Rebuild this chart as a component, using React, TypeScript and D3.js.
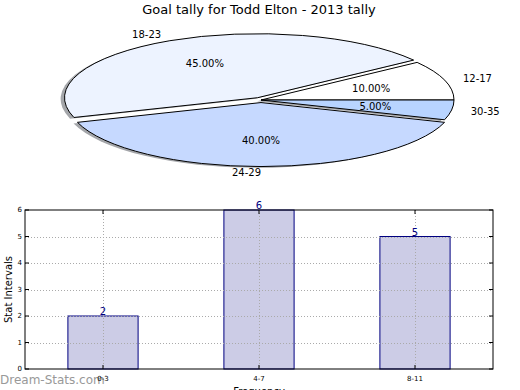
import React from 'react';
import * as d3 from 'd3';

// pie data
const ageGroups = ['12-17', '18-23', '24-29', '30-35'];
const ageShares = [10, 45, 40, 5];
const sliceColors = ['#ffffff', '#edf3ff', '#c6d9ff', '#b8d4ff'];
const explodeBy = [0, 0.04, 0.04, 0];

// bar data
const freqBins = ['0-3', '4-7', '8-11'];
const statCounts = [2, 6, 5];
const yTicks = [0, 1, 2, 3, 4, 5, 6];

const W = 520;
const H = 390;
const FONT = '"DejaVu Sans", sans-serif';

const pieBox = { cx: 261, cy: 100, rx: 193, ry: 64 };
const bar = { left: 25, right: 493, top: 210, bottom: 369 };

const App: React.FC = () => {
  const { cx, cy, rx, ry } = pieBox;
  const k = ry / rx;

  // counterclockwise from 3 o'clock, like matplotlib
  const pie = d3.pie<number>().sort(null).value((d) => d)
    .startAngle(Math.PI / 2).endAngle(Math.PI / 2 - 2 * Math.PI);
  const arcs = pie(ageShares);
  const arc = d3.arc<d3.PieArcDatum<number>>().innerRadius(0).outerRadius(rx);
  const total = d3.sum(ageShares);

  const slices = arcs.map((a, i) => {
    const mid = (a.startAngle + a.endAngle) / 2;
    const s = Math.sin(mid);
    const c = Math.cos(mid);
    const ox = cx + explodeBy[i] * rx * s;
    const oy = cy - explodeBy[i] * ry * c;
    return { a, i, s, c, ox, oy };
  });

  const x = d3.scaleBand<string>().domain(freqBins)
    .range([bar.left, bar.right]).paddingInner(0.55).paddingOuter(0.275);
  const y = d3.scaleLinear().domain([0, 6]).range([bar.bottom, bar.top]);
  const centre = (b: string) => (x(b) ?? 0) + x.bandwidth() / 2;

  return (
    <svg width={W} height={H} style={{ position: 'absolute', left: 0, top: 0, background: '#fff' }}
      fontFamily={FONT}>
      <rect width={W} height={H} fill="#fff" />
      <text x={259} y={14} textAnchor="middle" fontSize={13}>Goal tally for Todd Elton - 2013 tally</text>

      {/* shadows */}
      {slices.map(({ a, i, ox, oy }) => (
        <path key={'sh' + i} d={arc(a) ?? ''} fill="#4a4d55" fillOpacity={0.5}
          transform={`translate(${ox - 0.02 * rx},${oy + 0.02 * ry}) scale(1,${k})`} />
      ))}
      {slices.map(({ a, i, ox, oy }) => (
        <path key={'sl' + i} d={arc(a) ?? ''} fill={sliceColors[i]} stroke="#000" strokeWidth={1}
          vectorEffect="non-scaling-stroke" strokeLinejoin="round"
          transform={`translate(${ox},${oy}) scale(1,${k})`} />
      ))}
      {slices.map(({ i, s, c, ox, oy }) => (
        <g key={'lb' + i} fontSize={10}>
          <text x={ox + 1.1 * rx * s} y={oy - 1.1 * ry * c} dominantBaseline="central"
            textAnchor={s > 1e-9 ? 'start' : 'end'}>{ageGroups[i]}</text>
          <text x={ox + 0.6 * rx * s} y={oy - 0.6 * ry * c} dominantBaseline="central"
            textAnchor="middle">{((ageShares[i] / total) * 100).toFixed(2)}%</text>
        </g>
      ))}

      {/* bar chart */}
      {freqBins.map((b, i) => (
        <rect key={b} x={x(b)} y={y(statCounts[i])} width={x.bandwidth()}
          height={y(0) - y(statCounts[i])} fill="#ccccE6" stroke="#000080" strokeWidth={1} />
      ))}
      <g stroke="#aaaaaa" strokeWidth={1} strokeDasharray="1,2">
        {yTicks.slice(1, -1).map((t) => (
          <line key={'gy' + t} x1={bar.left} x2={bar.right} y1={Math.round(y(t)) + 0.5} y2={Math.round(y(t)) + 0.5} />
        ))}
        {freqBins.map((b) => (
          <line key={'gx' + b} x1={Math.round(centre(b)) + 0.5} x2={Math.round(centre(b)) + 0.5} y1={bar.top} y2={bar.bottom} />
        ))}
      </g>
      {freqBins.map((b, i) => (
        <text key={'v' + b} x={centre(b)} y={y(statCounts[i]) - 1} textAnchor="middle" fontSize={10}
          fill="#000080">{statCounts[i]}</text>
      ))}
      <rect x={bar.left} y={bar.top} width={bar.right - bar.left} height={bar.bottom - bar.top}
        fill="none" stroke="#000" strokeWidth={1} />
      <g stroke="#000" strokeWidth={1}>
        {yTicks.map((t) => (
          <g key={'ty' + t}>
            <line x1={bar.left} x2={bar.left + 4} y1={y(t)} y2={y(t)} />
            <line x1={bar.right - 4} x2={bar.right} y1={y(t)} y2={y(t)} />
          </g>
        ))}
        {freqBins.map((b) => (
          <g key={'tx' + b}>
            <line x1={centre(b)} x2={centre(b)} y1={bar.bottom} y2={bar.bottom - 4} />
            <line x1={centre(b)} x2={centre(b)} y1={bar.top} y2={bar.top + 4} />
          </g>
        ))}
      </g>
      {yTicks.map((t) => (
        <text key={'ly' + t} x={bar.left - 3} y={y(t)} textAnchor="end" dominantBaseline="central"
          fontSize={7}>{t}</text>
      ))}
      <text x={0} y={384} fontSize={12} fill="#999999">Dream-Stats.com</text>
      {freqBins.map((b) => (
        <text key={'lx' + b} x={centre(b)} y={381} textAnchor="middle" fontSize={7}>{b}</text>
      ))}
      <text transform={`translate(12,${(bar.top + bar.bottom) / 2}) rotate(-90)`} textAnchor="middle"
        fontSize={10}>Stat Intervals</text>
      <text x={(bar.left + bar.right) / 2} y={395} textAnchor="middle" fontSize={10}>Frequency</text>
    </svg>
  );
};

export default App;
